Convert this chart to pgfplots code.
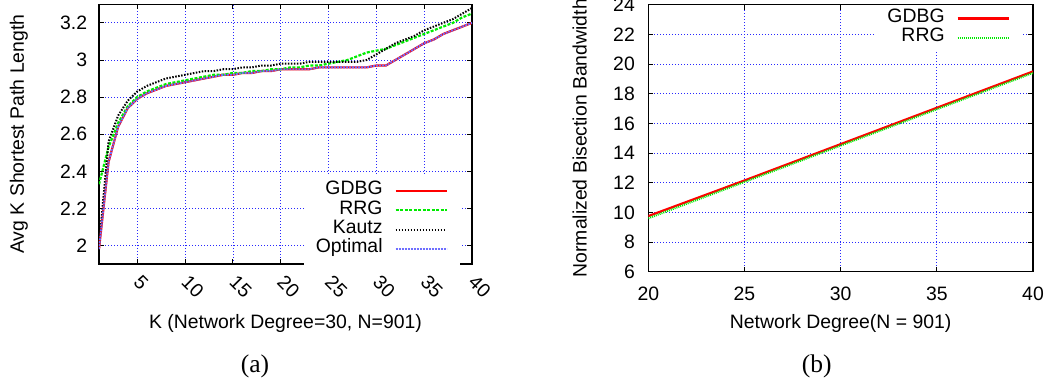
\documentclass[border=0pt]{standalone}
\usepackage{fontspec}
\setmainfont{Liberation Sans}
\newfontfamily\capfont{Liberation Serif}
\usepackage{pgfplots}
\usepackage{pgfplotstable}
\pgfplotsset{compat=1.18}

\definecolor{gdbgred}{RGB}{255,0,0}
\definecolor{rrggreen}{RGB}{0,235,0}
\definecolor{gridblue}{RGB}{40,40,255}
\definecolor{optblue}{RGB}{110,110,255}

% Average K-shortest path length vs K (degree 30, N = 901)
\pgfplotstableread{
K  gdbg rrg  kautz optimal
1  1.98 2.33 2.00  1.98
2  2.45 2.53 2.56  2.45
3  2.64 2.66 2.70  2.64
4  2.74 2.75 2.78  2.74
5  2.79 2.80 2.83  2.79
6  2.82 2.83 2.86  2.82
7  2.84 2.85 2.88  2.84
8  2.86 2.87 2.90  2.86
9  2.87 2.88 2.91  2.87
10 2.88 2.89 2.92  2.88
11 2.89 2.90 2.93  2.89
12 2.90 2.91 2.94  2.90
13 2.91 2.92 2.94  2.91
14 2.92 2.92 2.95  2.92
15 2.92 2.93 2.95  2.92
16 2.93 2.93 2.96  2.93
17 2.93 2.94 2.96  2.93
18 2.94 2.94 2.97  2.94
19 2.94 2.95 2.97  2.94
20 2.95 2.95 2.98  2.95
21 2.95 2.96 2.98  2.95
22 2.95 2.96 2.98  2.95
23 2.95 2.97 2.99  2.95
24 2.96 2.97 2.99  2.96
25 2.96 2.98 2.99  2.96
26 2.96 2.99 2.99  2.96
27 2.96 3.00 2.99  2.96
28 2.96 3.02 2.99  2.96
29 2.96 3.04 3.00  2.96
30 2.97 3.05 3.03  2.97
31 2.97 3.06 3.06  2.97
32 3.00 3.08 3.09  3.00
33 3.03 3.10 3.11  3.03
34 3.06 3.12 3.13  3.06
35 3.09 3.14 3.16  3.09
36 3.11 3.16 3.18  3.11
37 3.14 3.18 3.20  3.14
38 3.16 3.20 3.22  3.16
39 3.18 3.23 3.25  3.18
40 3.20 3.25 3.28  3.20
}\kspdata

% Normalized bisection bandwidth vs network degree (N = 901)
\pgfplotstableread{
deg gdbg  rrg
20  9.75  9.60
25  12.15 12.05
30  14.60 14.50
35  17.05 16.95
40  19.50 19.40
}\bisdata

\pgfplotsset{
  gp/.style={
    scale only axis,
    font=\fontsize{19.4}{23}\selectfont,
    /pgf/number format/assume math mode=true,
    axis line style={line width=1.1pt},
    tick align=inside,
    major tick length=5pt,
    tick style={line width=0.8pt, black},
    grid=major,
    major grid style={gridblue, line width=0.7pt, dash pattern=on 1pt off 2pt},
    xticklabel style={inner sep=0pt},
    yticklabel style={inner sep=0pt},
    legend cell align=right,
    legend plot pos=right,
    legend style={draw=none, fill=white, inner xsep=12pt, inner ysep=5pt,
      column sep=12pt, row sep=0pt,
      nodes={inner sep=0pt, text height=13.6pt, text depth=5.8pt}},
    legend image code/.code={\draw[#1] (0pt,0pt) -- (51pt,0pt);},
  },
  gdbg/.style={gdbgred, line width=2.2pt},
  rrgdash/.style={rrggreen, line width=2.2pt, dash pattern=on 3pt off 1.5pt},
  kautz/.style={black, line width=2pt, dash pattern=on 1.5pt off 1.5pt},
  optimal/.style={optblue, line width=1.8pt, dash pattern=on 2pt off 1pt},
  rrgdot/.style={rrggreen, line width=2pt, dash pattern=on 1pt off 1pt},
}

\begin{document}
\begin{tikzpicture}
\useasboundingbox (0pt,0pt) rectangle (1052pt,383pt);

\begin{axis}[gp,
  at={(99pt,119pt)}, anchor=south west,
  width=373pt, height=259.7pt,
  xmin=1, xmax=40, ymin=1.9, ymax=3.3,
  xtick={5,10,...,40},
  ytick={2,2.2,2.4,2.6,2.8,3,3.2},
  xticklabel style={rotate=-45, anchor=west},
  xticklabel shift=15pt,
  yticklabel shift=11.7pt,
  xlabel={K (Network Degree=30, N=901)},
  xlabel style={at={([yshift=-64.3pt]axis description cs:0.5,0)}, anchor=base},
  ylabel={Avg K Shortest Path Length},
  ylabel style={at={([xshift=-75pt]axis description cs:0,0.5)}, anchor=base},
  legend style={at={(0.9678,0.3466)}, anchor=north east, inner ysep=7pt},
]
\addplot[gdbg] table[x=K, y=gdbg] {\kspdata};
\addlegendentry{GDBG}
\addplot[rrgdash] table[x=K, y=rrg] {\kspdata};
\addlegendentry{RRG}
\addplot[kautz] table[x=K, y=kautz] {\kspdata};
\addlegendentry{Kautz}
\addplot[optimal] table[x=K, y=optimal] {\kspdata};
\addlegendentry{Optimal}
\end{axis}

\begin{axis}[gp,
  at={(648.3pt,111.3pt)}, anchor=south west,
  width=384.7pt, height=267pt,
  xmin=20, xmax=40, ymin=6, ymax=24,
  xtick={20,25,...,40},
  ytick={6,8,...,24},
  xticklabel style={anchor=north},
  xticklabel shift=15pt,
  yticklabel shift=13.3pt,
  xlabel={Network Degree(N = 901)},
  xlabel style={at={([yshift=-56.3pt]axis description cs:0.5,0)}, anchor=base},
  ylabel={Normalized Bisection Bandwidth},
  ylabel style={at={([xshift=-61.6pt]axis description cs:0,0.5)}, anchor=base},
  legend style={at={(0.9714,1)}, anchor=north east, inner ysep=4pt},
]
\addplot[gdbg] table[x=deg, y=gdbg] {\bisdata};
\addlegendentry{GDBG}
\addplot[rrgdot] table[x=deg, y=rrg] {\bisdata};
\addlegendentry{RRG}
\end{axis}

\node[font=\capfont\fontsize{25.5}{28}\selectfont, inner sep=0pt] at (255pt,17pt) {(a)};
\node[font=\capfont\fontsize{25.5}{28}\selectfont, inner sep=0pt] at (816.7pt,17pt) {(b)};
\end{tikzpicture}
\end{document}
